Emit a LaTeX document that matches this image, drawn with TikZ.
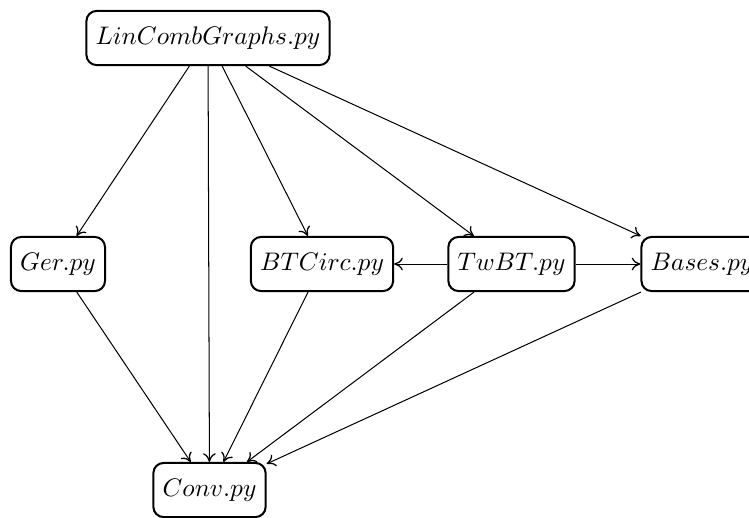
\documentclass[tikz,border=0pt]{standalone}
\usetikzlibrary{arrows.meta}
\begin{document}
\begin{tikzpicture}[x=0.3937pt,y=-0.3937pt,
  modbox/.style={draw,thick,rounded corners=4pt,inner xsep=3.6pt,
    minimum height=21.3pt,execute at begin node=$,execute at end node=$},
  dep/.style={-{To[length=3.4pt,width=5pt,line width=0.5pt]},thin}]
\useasboundingbox (0,0) rectangle (749,517);
\node[modbox] (lc) at (208,38) {LinCombGraphs.py};
\node[modbox] (ger) at (58,264) {Ger.py};
\node[modbox] (btc) at (322,264) {BTCirc.py};
\node[modbox] (twbt) at (511.5,264) {TwBT.py};
\node[modbox] (bases) at (702,264) {Bases.py};
\node[modbox] (conv) at (209.5,490) {Conv.py};
\draw[dep] (lc) -- (ger);
\draw[dep] (lc) -- (conv);
\draw[dep] (lc) -- (btc);
\draw[dep] (lc) -- (twbt);
\draw[dep] (lc) -- (bases);
\draw[dep] (twbt) -- (btc);
\draw[dep] (twbt) -- (bases);
\draw[dep] (ger) -- (conv);
\draw[dep] (btc) -- (conv);
\draw[dep] (twbt) -- (conv);
\draw[dep] (bases) -- (conv);
\end{tikzpicture}
\end{document}
